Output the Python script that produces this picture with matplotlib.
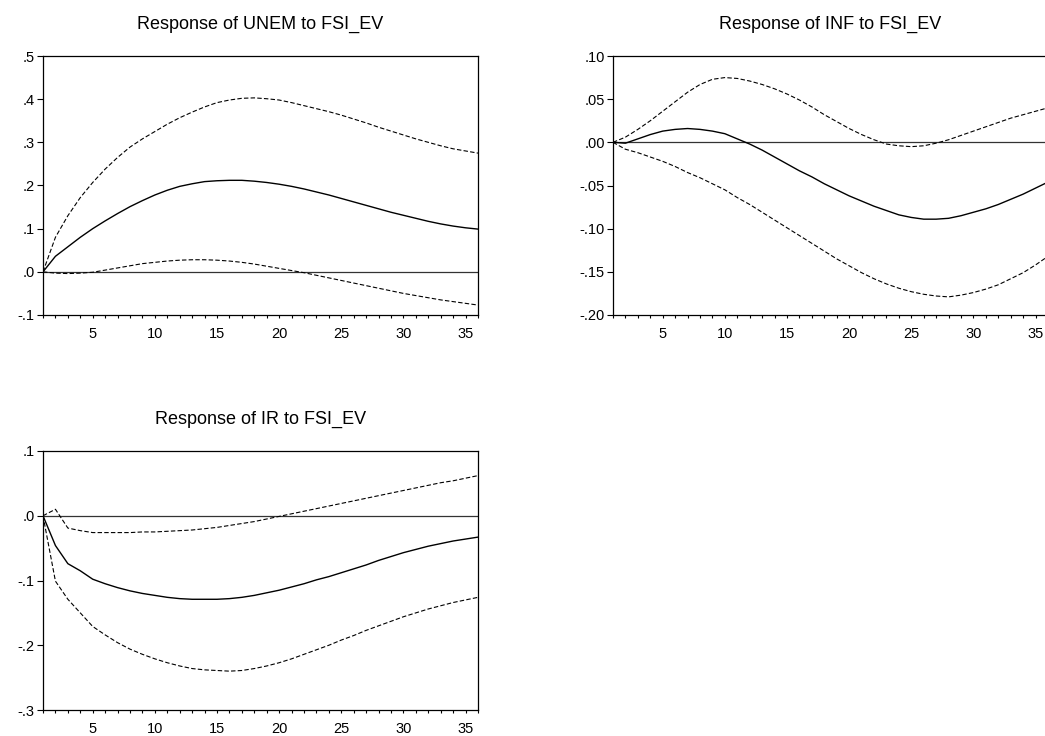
import matplotlib
import matplotlib.pyplot as plt
import numpy as np
from matplotlib.ticker import FuncFormatter, MultipleLocator

matplotlib.use("Agg")
plt.rcParams["font.family"] = ["Liberation Sans", "DejaVu Sans"]

periods = np.arange(1, 37)

# Response of UNEM to FSI_EV
unem = [0, 0.036, 0.058, 0.080, 0.100, 0.118, 0.135, 0.151, 0.165, 0.178,
        0.189, 0.198, 0.204, 0.209, 0.211, 0.212, 0.212, 0.210, 0.207, 0.203,
        0.198, 0.192, 0.185, 0.178, 0.170, 0.162, 0.154, 0.146, 0.138, 0.131,
        0.124, 0.117, 0.111, 0.106, 0.102, 0.099]
unem_hi = [0, 0.080, 0.130, 0.172, 0.207, 0.238, 0.265, 0.289, 0.308, 0.325,
           0.342, 0.357, 0.370, 0.382, 0.392, 0.398, 0.402, 0.403, 0.401, 0.398,
           0.392, 0.385, 0.378, 0.371, 0.363, 0.354, 0.345, 0.335, 0.326, 0.317,
           0.308, 0.300, 0.292, 0.285, 0.280, 0.275]
unem_lo = [0, -0.003, -0.004, -0.003, -0.001, 0.004, 0.009, 0.014, 0.019, 0.022,
           0.025, 0.027, 0.028, 0.028, 0.027, 0.025, 0.022, 0.018, 0.013, 0.008,
           0.003, -0.002, -0.008, -0.014, -0.020, -0.026, -0.032, -0.038, -0.044, -0.050,
           -0.055, -0.060, -0.065, -0.069, -0.073, -0.077]

# Response of INF to FSI_EV
inf = [0, -0.001, 0.004, 0.009, 0.013, 0.015, 0.016, 0.015, 0.013, 0.010,
       0.004, -0.002, -0.009, -0.017, -0.025, -0.033, -0.040, -0.048, -0.055, -0.062,
       -0.068, -0.074, -0.079, -0.084, -0.087, -0.089, -0.089, -0.088, -0.085, -0.081,
       -0.077, -0.072, -0.066, -0.060, -0.053, -0.046]
inf_hi = [0, 0.006, 0.015, 0.025, 0.036, 0.047, 0.058, 0.067, 0.073, 0.075,
          0.074, 0.071, 0.067, 0.062, 0.056, 0.049, 0.041, 0.032, 0.024, 0.016,
          0.009, 0.003, -0.002, -0.004, -0.005, -0.004, -0.001, 0.003, 0.008, 0.013,
          0.018, 0.023, 0.028, 0.032, 0.036, 0.040]
inf_lo = [0, -0.008, -0.012, -0.017, -0.022, -0.028, -0.035, -0.041, -0.048, -0.055,
          -0.064, -0.072, -0.081, -0.090, -0.099, -0.108, -0.117, -0.126, -0.135, -0.143,
          -0.151, -0.158, -0.164, -0.169, -0.173, -0.176, -0.178, -0.179, -0.177, -0.174,
          -0.170, -0.165, -0.158, -0.151, -0.142, -0.132]

# Response of IR to FSI_EV
ir = [0, -0.046, -0.074, -0.085, -0.098, -0.105, -0.111, -0.116, -0.120, -0.123,
      -0.126, -0.128, -0.129, -0.129, -0.129, -0.128, -0.126, -0.123, -0.119, -0.115,
      -0.110, -0.105, -0.099, -0.094, -0.088, -0.082, -0.076, -0.069, -0.063, -0.057,
      -0.052, -0.047, -0.043, -0.039, -0.036, -0.033]
ir_hi = [0, 0.010, -0.019, -0.023, -0.026, -0.026, -0.026, -0.026, -0.025, -0.025,
         -0.024, -0.023, -0.022, -0.020, -0.018, -0.015, -0.012, -0.009, -0.005, -0.001,
         0.003, 0.007, 0.011, 0.015, 0.019, 0.023, 0.027, 0.031, 0.035, 0.039,
         0.043, 0.047, 0.051, 0.054, 0.058, 0.062]
ir_lo = [0, -0.101, -0.129, -0.150, -0.171, -0.184, -0.196, -0.206, -0.214, -0.221,
         -0.227, -0.232, -0.236, -0.238, -0.239, -0.240, -0.239, -0.236, -0.232, -0.227,
         -0.221, -0.214, -0.207, -0.200, -0.192, -0.185, -0.177, -0.170, -0.163, -0.156,
         -0.150, -0.144, -0.139, -0.134, -0.130, -0.126]


def fmt(decimals):
    # EViews style labels: ".5", "-.1", ".00"
    def f(v, pos):
        s = f"{v:.{decimals}f}"
        if s.startswith("-0"):
            return "-" + s[2:]
        if s.startswith("0"):
            return s[1:]
        return s
    return FuncFormatter(f)


W, H = 1045, 736
fig = plt.figure(figsize=(W / 100, H / 100), dpi=100)


def panel(rect, title, mid, hi, lo, ylim, ystep, decimals):
    x0, y0, x1, y1 = rect  # pixel coords, top-left origin
    ax = fig.add_axes([x0 / W, 1 - y1 / H, (x1 - x0) / W, (y1 - y0) / H])
    ax.axhline(0, color="#333333", lw=0.9)
    ax.plot(periods, hi, color="black", lw=0.8, ls=(0, (4, 2)))
    ax.plot(periods, lo, color="black", lw=0.8, ls=(0, (4, 2)))
    ax.plot(periods, mid, color="black", lw=1.0)
    ax.set_xlim(1, 36)
    ax.set_ylim(*ylim)
    ax.xaxis.set_major_locator(MultipleLocator(5))
    ax.xaxis.set_minor_locator(MultipleLocator(1))
    ax.yaxis.set_major_locator(MultipleLocator(ystep))
    ax.yaxis.set_major_formatter(fmt(decimals))
    ax.tick_params(axis="x", which="both", direction="out", length=2.5,
                   width=0.8, labelsize=10.5, pad=6)
    ax.tick_params(axis="y", which="both", direction="out", length=4,
                   width=0.8, labelsize=10.5, pad=2)
    for sp in ax.spines.values():
        sp.set_linewidth(0.9)
    fig.text((x0 + x1) / 2 / W, 1 - (y0 - 27) / H, title, fontsize=13,
             ha="center", va="baseline")
    return ax


panel((43, 56, 478, 315), "Response of UNEM to FSI_EV", unem, unem_hi, unem_lo,
      (-0.1, 0.5), 0.1, 1)
panel((613, 56, 1048, 315), "Response of INF to FSI_EV", inf, inf_hi, inf_lo,
      (-0.2, 0.1), 0.05, 2)
panel((43, 451, 478, 710), "Response of IR to FSI_EV", ir, ir_hi, ir_lo,
      (-0.3, 0.1), 0.1, 1)

fig.savefig("out.png", dpi=100)
